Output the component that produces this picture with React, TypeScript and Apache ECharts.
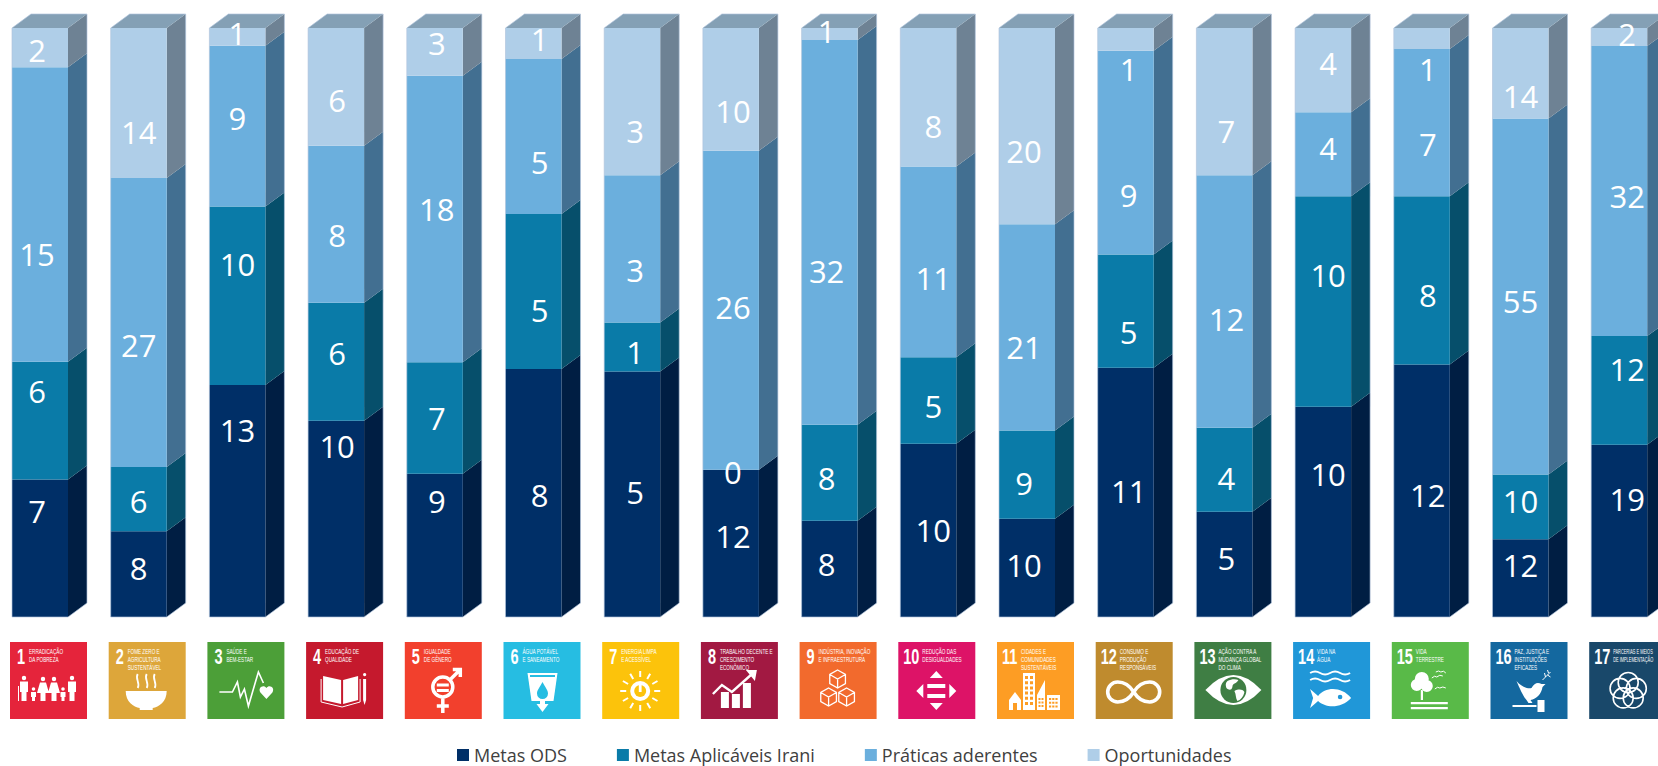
import React, { useEffect, useRef } from "react";
import * as echarts from "echarts";

// ---------- data ----------
const categories = ["1","2","3","4","5","6","7","8","9","10","11","12","13","14","15","16","17"];
const metasODS      = [7, 8, 13, 10, 9, 8, 5, 12, 8, 10, 10, 11, 5, 10, 12, 12, 19];
const metasIrani    = [6, 6, 10, 6, 7, 5, 1, 0, 8, 5, 9, 5, 4, 10, 8, 10, 12];
const praticas      = [15, 27, 9, 8, 18, 5, 3, 26, 32, 11, 21, 9, 12, 4, 7, 55, 32];
const oportunidades = [2, 14, 1, 6, 3, 1, 3, 10, 1, 8, 20, 1, 7, 4, 1, 14, 2];
const seriesNames = ["Metas ODS", "Metas Aplicáveis Irani", "Práticas aderentes", "Oportunidades"];
const tileTitles = [
  ["ERRADICAÇÃO", "DA POBREZA"],
  ["FOME ZERO E", "AGRICULTURA", "SUSTENTÁVEL"],
  ["SAÚDE E", "BEM-ESTAR"],
  ["EDUCAÇÃO DE", "QUALIDADE"],
  ["IGUALDADE", "DE GÊNERO"],
  ["ÁGUA POTÁVEL", "E SANEAMENTO"],
  ["ENERGIA LIMPA", "E ACESSÍVEL"],
  ["TRABALHO DECENTE E", "CRESCIMENTO", "ECONÔMICO"],
  ["INDÚSTRIA, INOVAÇÃO", "E INFRAESTRUTURA"],
  ["REDUÇÃO DAS", "DESIGUALDADES"],
  ["CIDADES E", "COMUNIDADES", "SUSTENTÁVEIS"],
  ["CONSUMO E", "PRODUÇÃO", "RESPONSÁVEIS"],
  ["AÇÃO CONTRA A", "MUDANÇA GLOBAL", "DO CLIMA"],
  ["VIDA NA", "ÁGUA"],
  ["VIDA", "TERRESTRE"],
  ["PAZ, JUSTIÇA E", "INSTITUIÇÕES", "EFICAZES"],
  ["PARCERIAS E MEIOS", "DE IMPLEMENTAÇÃO"],
];

// ---------- layout and style ----------
const W = 1658, H = 766;
const PITCH = 98.7, FIRST_CENTER = 40, FRONT_W = 56, DX = 19, DY = 14;
const PLOT_TOP = 28, PLOT_BOTTOM = 617;
const TILE_LEFT = 10, TILE_TOP = 642, TILE_SIZE = 77;
const REF = 1658 / 1568;
const frontColors = ["#002F67", "#0A7BA8", "#6BAFDD", "#AFCEE8"];
const sideColors = ["#001E43", "#064F6B", "#426F91", "#6E8294"];
const topColor = "#84A0B5";
const tileColors = ["#E5243B","#DDA63A","#4C9F38","#C5192D","#F2402D","#26BDE2","#FCC30B","#A21942","#F26A2D","#DD1367","#FD9D24","#BF8B2E","#3F7E44","#2097D8","#59BA48","#14689F","#19486A"];
// label centres as placed in the original (not centred on their segments), by series
const labelYOds = [483,537,407,422,474,468,465,507,533,501,534,464,528,448,468,534,472];
const labelYIrani = [370,474,250,334,395,293,333,446,452,384,457,314,452,260,279,474,349];
const labelYPraticas = [240,326,112,222,198,153,255,290,256,263,328,184,302,140,136,285,185];
const labelYOport = [47,125,31,95,41,37,124,105,29,119,143,65,124,60,65,91,32];
const labelDX = [-3,0,0,1,2,6,3,2,-3,5,-3,3,2,5,6,0,8];

// ---------- tile pictograms (local 77x77 box) ----------
const c = (x: number, y: number, r: number) => `M${x - r} ${y}a${r} ${r} 0 1 0 ${2 * r} 0a${r} ${r} 0 1 0 ${-2 * r} 0z`;
const r = (x: number, y: number, w: number, h: number) => `M${x} ${y}h${w}v${h}h${-w}z`;
const iso = (x: number, y: number, s: number) => {
  const a = 0.87 * s, b = 0.5 * s;
  return `M${x} ${y - s}L${x + a} ${y - b}V${y + b}L${x} ${y + s}L${x - a} ${y + b}V${y - b}ZM${x - a} ${y - b}L${x} ${y}L${x + a} ${y - b}M${x} ${y}V${y + s}`;
};
const rays = (x: number, y: number, r0: number, r1: number, n: number) => {
  let d = "";
  for (let k = 0; k < n; k++) {
    const t = (k * 2 * Math.PI) / n;
    d += `M${(x + r0 * Math.cos(t)).toFixed(1)} ${(y + r0 * Math.sin(t)).toFixed(1)}L${(x + r1 * Math.cos(t)).toFixed(1)} ${(y + r1 * Math.sin(t)).toFixed(1)}`;
  }
  return d;
};
const grid = (x: number, y: number, cols: number, rows: number, w: number, h: number, gx: number, gy: number) => {
  let d = "";
  for (let i = 0; i < cols; i++) for (let j = 0; j < rows; j++) d += r(x + i * gx, y + j * gy, w, h);
  return d;
};
const five = () => {
  let d = "";
  for (let k = 0; k < 5; k++) {
    const t = ((-90 + 72 * k) * Math.PI) / 180;
    d += c(+(39 + 8.5 * Math.cos(t)).toFixed(1), +(49 + 8.5 * Math.sin(t)).toFixed(1), 10);
  }
  return d;
};
type Layer = [string, string, number?];
const icons: Layer[][] = [
  [["f", c(14,36,2.2)+"M10 39.5H18V50H16.5V59H11.5V50H10z"+c(23.5,47,1.8)+"M21 50H26V55H25V59H22V55H21z"+c(33,37,2.2)+"M30 40.5H36L39 51H35.5V59H30.5V51H27z"+c(44,37,2.2)+"M41 40.5H47L50 51H46.5V59H41.5V51H38z"+c(53,47,1.8)+"M50.5 50H55.5V55H54.5V59H51.5V55H50.5z"+c(62,36,2.2)+"M58 39.5H66V50H64.5V59H59.5V50H58z"],["s","M8.5 44V59",1]],
  [["f","M17 49H58C58 60 50 65 44 66V68H31V66C25 65 17 60 17 49z"],["s","M29 32C26 37 32 41 29 46M38 32C35 37 41 41 38 46M46 32C43 37 49 41 46 46",1.8]],
  [["s","M12 50H25L30 40L33 55L37 47L41 64L51 30L56 41",1.6],["f","M59 57L53 50.5C50 46 56 42 59 46C62 42 68 46 65 50.5z"]],
  [["f","M17 34L35 38V62L17 58zM37 38L52 34V58L37 62z"+r(57,37,3,21)+"M57 58H60L58.5 63zM58.5 31a1.6 1.6 0 1 0 .1 0z"],["s","M15 37V60L36 65L54 60V37",1]],
  [["s",c(38,45,10)+"M45.5 37.5L55 28M48 27.5H55.5V35M38 55V71M32 64H44",3.5],["f",r(32,41.5,12,3)+r(32,47,12,3)]],
  [["f","M24 31H54L50 59H28z"],["d",r(26.5,33,25,2)+"M39 40C36 46 33.5 48 33.5 51.5a5.5 5.5 0 0 0 11 0C44.5 48 42 46 39 40z"],["f","M33 62H45L39 70z"+r(36.5,59,5,4)]],
  [["f",c(38,49,10)],["d",c(38,49,6)],["f",r(36.6,43,2.8,7)],["s",rays(38,49,14,20,12),2]],
  [["f",r(20,50,8,16)+r(31,52,8,14)+r(42,41,8,25)+"M45 28L56 28L54 39z"],["s","M12 52L21 43L31 50L50 33",2.4]],
  [["s",iso(38,37,9)+iso(29,55,9)+iso(47,55,9),1.3]],
  [["f","M38 29L44.5 36H31.5zM38 68L44.5 61H31.5zM18 49L25 42V56zM58 49L51 42V56z"+r(29,42,18,4)+r(29,52,18,4)]],
  [["f","M12 58L18 50L24 58V68H12z"+r(26,31,12,37)+"M40 68V53L48 38V68z"+r(50,53,13,15)],["d",grid(28,34,2,6,3,3,5,5.2)+grid(41.5,56,2,3,2,2,3,3.5)+grid(52,56,3,3,2.2,2,3.2,3.7)+r(16,61,4,7)]],
  [["s","M38 50C33 42 27 40 22 40A10 10 0 0 0 22 60C27 60 33 58 38 50C43 42 49 40 54 40A10 10 0 0 1 54 60C49 60 43 58 38 50z",3.6]],
  [["f","M11 48Q39 18 67 48Q39 78 11 48z"],["d",c(39,48,13)],["f","M33 39C37 37 41 37 44 38C42 42 38 41 38 45C37 49 34 48 32 46C31 43 31 41 33 39zM40 49C44 47 48 47 50 50C49 55 46 58 43 59C41 56 42 53 40 49z"]],
  [["s","M17 31q5 -3 10 0t10 0t10 0t10 0M17 38q5 -3 10 0t10 0t10 0t10 0",2],["f","M17 47L25 54C32 45 48 44 58 56C48 67 32 66 25 59L17 66L20 56z"],["d",c(47,55,2.3)]],
  [["f",c(30,37,7)+c(25,43,6)+c(35,44,6)+r(29,48,2.2,10)+r(19,60,37,2.2)+r(19,65,37,2.2)],["s","M40 36q3 -3 5 -1q3 -3 6 -1M44 30q3 -2 5 0q3 -2 5 1M43 47q3 -3 5 -1q3 -2 6 0",1]],
  [["f","M26 39C31 45 37 47 41 46C44 41 47 40 51 42L55 42L52 45C51 52 46 57 40 58L42 61H38L36 58C33 55 29 46 26 39z"+r(22,63,24,2)+r(47,58,7,12)],["s","M52 38L60 30M55 35L54 31M57 33L60 35M58 31L57 28",1]],
  [["s",five(),1.6]],
];
icons.forEach((layers, i) =>
  layers.forEach((l, j) => {
    echarts.graphic.registerShape(`sdg${i}_${j}`, (echarts.graphic as any).extendPath(l[1], {}));
  })
);

function tileElements(): any[] {
  return categories.map((num, i) => {
    const color = tileColors[i];
    const two = num.length > 1;
    const children: any[] = [
      { type: "rect", shape: { x: 0, y: 0, width: TILE_SIZE, height: TILE_SIZE }, style: { fill: color } },
      { type: "text", x: two ? 5 : 7, y: 14, scaleX: 0.66, style: { text: num, fill: "#fff", fontSize: 22, fontWeight: "bold", fontFamily: "Liberation Sans", verticalAlign: "middle" } },
    ];
    tileTitles[i].forEach((line, k) => {
      children.push({ type: "text", x: two ? 24 : 19, y: 9 + k * 8, scaleX: i === 16 ? 0.52 : 0.62, style: { text: line, fill: "#fff", fontSize: 7.5, fontFamily: "Liberation Sans", verticalAlign: "middle" } });
    });
    icons[i].forEach((l, j) => {
      const style: any = l[0] === "s"
        ? { fill: "none", stroke: "#fff", lineWidth: l[2] ?? 1.5 }
        : { fill: l[0] === "f" ? "#fff" : color };
      children.push({ type: `sdg${i}_${j}`, x: 0, y: 0, style });
    });
    return { type: "group", x: TILE_LEFT + i * PITCH, y: TILE_TOP, silent: true, children };
  });
}

const rows = [metasODS, metasIrani, praticas, oportunidades];
const totals = categories.map((_, i) => rows.reduce((s, a) => s + a[i], 0));

function segmentSeries(k: number): any {
  const data = categories.map((_, i) => {
    const below = rows.slice(0, k).reduce((s, a) => s + a[i], 0);
    return [i, (below / totals[i]) * 100, ((below + rows[k][i]) / totals[i]) * 100];
  });
  return {
    name: seriesNames[k],
    type: "custom",
    clip: false,
    itemStyle: { color: frontColors[k] },
    encode: { x: 0, y: [1, 2] },
    data,
    z: 2 + k,
    renderItem: (_p: any, api: any) => {
      const i = api.value(0);
      const [cx, y0] = api.coord([i, api.value(1)]);
      const [, y1] = api.coord([i, api.value(2)]);
      if (Math.abs(y0 - y1) < 0.01) return { type: "group", children: [] };
      const x0 = cx - FRONT_W / 2, x1 = cx + FRONT_W / 2;
      const children: any[] = [
        { type: "polygon", shape: { points: [[x1, y1], [x1 + DX, y1 - DY], [x1 + DX, y0 - DY], [x1, y0]] }, style: { fill: sideColors[k] } },
        { type: "rect", shape: { x: x0, y: y1, width: FRONT_W, height: y0 - y1 }, style: { fill: frontColors[k] } },
      ];
      if (k === 3) {
        children.push({ type: "polygon", shape: { points: [[x0, y1], [x1, y1], [x1 + DX, y1 - DY], [x0 + DX, y1 - DY]] }, style: { fill: topColor } });
      }
      return { type: "group", children };
    },
  };
}

const labelSeries: any = {
  name: "labels",
  type: "custom",
  clip: false,
  silent: true,
  z: 10,
  encode: { x: 0, y: 1 },
  data: categories.map((_, i) => [i, 0]),
  renderItem: (_p: any, api: any) => {
    const i = api.value(0);
    const [cx, yb] = api.coord([i, 0]);
    const [, yt] = api.coord([i, 100]);
    const x0 = cx - FRONT_W / 2, x1 = cx + FRONT_W / 2;
    const children: any[] = [
      {
        type: "polygon",
        shape: { points: [[x0, yt], [x0 + DX, yt - DY], [x1 + DX, yt - DY], [x1 + DX, yb - DY], [x1, yb], [x0, yb]] },
        style: { fill: "none", stroke: "rgba(175,195,220,0.65)", lineWidth: 1 },
      },
    ];
    const entries: [number, number][] = [
      [labelYOport[i], oportunidades[i]],
      [labelYPraticas[i], praticas[i]],
      [labelYIrani[i], metasIrani[i]],
      [labelYOds[i], metasODS[i]],
    ];
    entries.forEach(([y, v]) => {
      children.push({
        type: "text",
        x: cx + labelDX[i],
        y: y * REF,
        style: { text: String(v), fill: "#fff", fontSize: 31, fontFamily: "Open Sans", align: "center", verticalAlign: "middle" },
      });
    });
    return { type: "group", children };
  },
};

export default function App() {
  const ref = useRef<HTMLDivElement>(null);
  useEffect(() => {
    document.body.style.margin = "0";
    const chart = echarts.init(ref.current!, undefined, { renderer: "svg" });
    chart.setOption({
      animation: false,
      grid: {
        left: FIRST_CENTER - PITCH / 2,
        width: PITCH * categories.length,
        top: PLOT_TOP,
        height: PLOT_BOTTOM - PLOT_TOP,
        containLabel: false,
        outerBoundsMode: "none",
      },
      xAxis: { type: "category", data: categories, show: false },
      yAxis: { type: "value", min: 0, max: 100, show: false },
      legend: {
        data: seriesNames,
        left: 457,
        top: 746,
        padding: 0,
        itemWidth: 12,
        itemHeight: 12,
        itemGap: 50,
        icon: "rect",
        selectedMode: false,
        textStyle: { fontFamily: "Open Sans", fontSize: 18, color: "#404040" },
      },
      graphic: { elements: tileElements() },
      series: [0, 1, 2, 3].map(segmentSeries).concat([labelSeries]),
    });
    return () => chart.dispose();
  }, []);
  return <div ref={ref} style={{ position: "absolute", left: 0, top: 0, width: W, height: H, overflow: "hidden", background: "#fff" }} />;
}
